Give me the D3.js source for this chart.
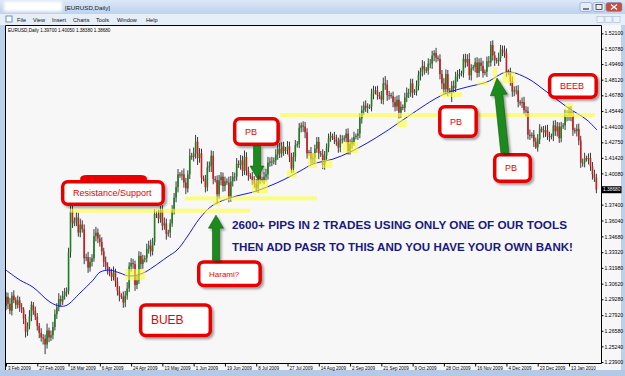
<!DOCTYPE html>
<html>
<head>
<meta charset="utf-8">
<script src="https://cdn.jsdelivr.net/npm/d3@7/dist/d3.min.js"></script>
<style>
  body { margin: 0; background: #bcd0ea; }
  svg { display: block; font-family: "Liberation Sans", Arial, sans-serif; }
</style>
</head>
<body>
<svg id="chart" width="625" height="376"></svg>
<script>
// EURUSD daily closes, 3 Feb 2009 .. 29 Jan 2010 (16 bars between date labels)
var closes = [
    1.2950, 1.2890, 1.2830, 1.2960, 1.2920, 1.2880, 1.2920, 1.2860, 1.2840, 1.2760, 1.2650, 1.2700, 1.2780, 1.2880, 1.2830, 1.2780,
    1.2700, 1.2640, 1.2600, 1.2590, 1.2540, 1.2660, 1.2600, 1.2620, 1.2690, 1.2800, 1.2860, 1.2930, 1.2910, 1.2960, 1.2990, 1.3000,
    1.3330, 1.3680, 1.3580, 1.3600, 1.3630, 1.3500, 1.3570, 1.3530, 1.3280, 1.3290, 1.3200, 1.3250, 1.3280, 1.3470, 1.3500, 1.3450,
    1.3420, 1.3340, 1.3250, 1.3210, 1.3180, 1.3150, 1.3120, 1.3160, 1.3080, 1.3000, 1.2960, 1.2950, 1.2900, 1.2960, 1.3020, 1.3210,
    1.3240, 1.3230, 1.3050, 1.3090, 1.3300, 1.3230, 1.3270, 1.3280, 1.3360, 1.3390, 1.3340, 1.3420, 1.3660, 1.3650, 1.3620, 1.3690,
    1.3560, 1.3580, 1.3490, 1.3500, 1.3580, 1.3690, 1.3800, 1.3890, 1.4000, 1.3990, 1.4000, 1.3930, 1.3880, 1.4000, 1.4160, 1.4150,
    1.4180, 1.4280, 1.4140, 1.4180, 1.3970, 1.3960, 1.3890, 1.4060, 1.4070, 1.4160, 1.3960, 1.3950, 1.3830, 1.3950, 1.3980, 1.3900,
    1.3940, 1.3930, 1.3800, 1.3940, 1.3980, 1.3980, 1.4090, 1.4080, 1.4120, 1.4030, 1.4150, 1.4030, 1.3990, 1.3980, 1.3950, 1.3920,
    1.3880, 1.3990, 1.3960, 1.3950, 1.3980, 1.4000, 1.4100, 1.4110, 1.4110, 1.4120, 1.4170, 1.4220, 1.4180, 1.4240, 1.4200, 1.4210,
    1.4240, 1.4150, 1.4050, 1.4150, 1.4250, 1.4260, 1.4400, 1.4420, 1.4410, 1.4360, 1.4180, 1.4190, 1.4130, 1.4140, 1.4220, 1.4280,
    1.4180, 1.4170, 1.4080, 1.4160, 1.4230, 1.4310, 1.4330, 1.4320, 1.4300, 1.4280, 1.4230, 1.4300, 1.4300, 1.4310, 1.4350, 1.4200,
    1.4260, 1.4280, 1.4320, 1.4330, 1.4350, 1.4480, 1.4550, 1.4590, 1.4570, 1.4580, 1.4580, 1.4690, 1.4720, 1.4720, 1.4680, 1.4670,
    1.4640, 1.4780, 1.4770, 1.4680, 1.4680, 1.4670, 1.4620, 1.4580, 1.4640, 1.4530, 1.4580, 1.4570, 1.4660, 1.4700, 1.4700, 1.4780,
    1.4700, 1.4710, 1.4760, 1.4850, 1.4880, 1.4930, 1.4900, 1.4890, 1.4950, 1.4950, 1.5020, 1.5040, 1.5000, 1.4990, 1.4860, 1.4780,
    1.4730, 1.4860, 1.4720, 1.4710, 1.4760, 1.4740, 1.4840, 1.4860, 1.4860, 1.4870, 1.4990, 1.4960, 1.4990, 1.4850, 1.4910, 1.4920,
    1.4960, 1.4870, 1.4960, 1.4930, 1.4870, 1.4880, 1.4970, 1.4960, 1.5110, 1.5020, 1.4980, 1.4970, 1.5000, 1.5070, 1.5060, 1.5040,
    1.4880, 1.4870, 1.4800, 1.4710, 1.4720, 1.4720, 1.4620, 1.4610, 1.4620, 1.4550, 1.4540, 1.4340, 1.4330, 1.4340, 1.4280, 1.4230,
    1.4300, 1.4390, 1.4380, 1.4360, 1.4380, 1.4330, 1.4320, 1.4330, 1.4420, 1.4370, 1.4410, 1.4310, 1.4410, 1.4420, 1.4510, 1.4500,
    1.4540, 1.4500, 1.4380, 1.4370, 1.4390, 1.4290, 1.4100, 1.4100, 1.4140, 1.4130, 1.4140, 1.4070, 1.4000, 1.3970, 1.3868
];
var firstOpen = 1.2870;

// shadow lengths in pips, above and below the candle body
var wickUp = [
    40,35,50,30,45,25,40,30,35,20,40,30,55,30,25,35,  30,25,40,30,35,60,25,40,45,40,35,50,30,40,35,30,
    40,58,60,30,45,40,50,35,40,30,45,40,35,60,50,35,  35,40,30,45,35,25,40,50,30,35,40,20,45,40,55,35,
    40,35,30,45,40,35,40,25,45,40,50,35,40,25,45,40,  45,50,40,25,35,45,40,50,45,20,35,50,40,35,60,25,
    50,58,40,45,40,20,35,50,40,45,40,25,40,45,40,35,  40,25,50,45,40,35,50,30,45,40,55,40,35,20,40,35,
    40,45,35,20,40,45,50,35,40,25,45,40,50,35,40,25,  45,40,35,40,45,25,40,25,35,40,35,20,45,40,35,40,
    40,20,45,40,35,40,35,20,45,40,35,40,35,25,40,45,  40,35,45,20,40,45,40,35,45,30,20,45,40,35,40,25,
    45,50,63,40,35,20,40,45,35,40,45,20,40,45,35,40,  40,20,45,40,35,50,40,20,45,40,40,25,45,20,40,35,
    45,40,35,20,40,45,40,35,45,20,40,45,40,50,35,20,  40,45,35,40,45,20,40,45,33,40,35,20,45,40,35,45,
    40,20,45,40,35,40,45,20,40,45,35,40,45,20,40,35,  45,40,20,35,40,45,35,20,40,45,40,35,40,20,45,40,
    40,45,40,20,40,45,40,35,45,20,40,45,35,40,35
];
var wickDn = [
    35,45,30,40,25,35,30,40,30,45,50,35,30,40,35,30,  40,45,35,50,83,35,40,30,35,30,40,35,45,30,35,40,
    30,45,40,25,45,35,40,30,50,25,45,35,40,30,45,40,  40,35,45,30,40,25,35,30,45,40,50,20,45,40,35,30,
    45,40,50,35,30,45,40,25,35,40,45,35,30,25,40,35,  40,35,50,25,45,30,35,40,45,20,40,45,50,35,40,25,
    40,45,60,40,50,20,45,35,40,50,45,20,85,40,45,50,  45,20,40,35,45,40,35,25,40,45,35,40,45,20,40,35,
    30,40,45,20,35,40,45,35,40,25,40,45,40,35,40,25,  40,45,40,35,40,20,35,40,45,50,45,20,40,35,40,35,
    50,20,35,40,35,40,30,25,40,35,45,40,35,20,35,30,  30,40,35,20,35,40,45,40,35,45,20,40,45,35,40,25,
    35,40,45,50,40,20,45,40,35,50,45,20,35,40,45,35,  45,20,35,40,45,40,45,20,35,40,45,50,40,20,45,50,
    40,45,50,20,90,40,35,45,40,20,40,45,35,40,45,20,  45,40,35,45,40,20,45,40,35,45,50,20,40,35,45,40,
    45,20,40,45,40,35,45,20,40,35,45,40,35,20,45,12,  35,40,20,45,40,35,40,20,45,40,45,40,35,20,40,45,
    40,45,50,20,45,40,45,35,40,20,45,40,45,35,30
];

var dateLabels = ["3 Feb 2009", "27 Feb 2009", "18 Mar 2009", "6 Apr 2009", "24 Apr 2009", "13 May 2009",
    "1 Jun 2009", "19 Jun 2009", "8 Jul 2009", "27 Jul 2009", "14 Aug 2009", "2 Sep 2009", "21 Sep 2009",
    "9 Oct 2009", "28 Oct 2009", "16 Nov 2009", "4 Dec 2009", "23 Dec 2009", "13 Jan 2010"];
var priceLabels = [1.52100, 1.50780, 1.49460, 1.48120, 1.46780, 1.45440, 1.44100, 1.42750, 1.41420, 1.40080,
    1.38740, 1.37400, 1.36040, 1.34680, 1.33320, 1.31980, 1.30620, 1.29280, 1.27920, 1.26580, 1.25240, 1.23900];

// moving average
var maIdx = [0, 7.2, 13.8, 22.5, 27.6, 31.2, 37.8, 44.5, 48.1, 53.2, 58.3, 63.4, 70.1, 75.2, 82.4, 87.5, 92.6,
    99.2, 105.9, 116.1, 126.3, 133.5, 141.7, 150.4, 157, 167.3, 176, 184.7, 193.9, 201.5, 218.4, 225.6, 235.8,
    246, 256.3, 266.5, 276.7, 287, 297.2, 302.3];
var maVal = [1.3178, 1.3092, 1.3032, 1.2904, 1.2869, 1.2878, 1.2981, 1.3092, 1.3161, 1.3178, 1.3153, 1.3127,
    1.3153, 1.3204, 1.3290, 1.3350, 1.3462, 1.3625, 1.3736, 1.3805, 1.3848, 1.3891, 1.3951, 1.4028, 1.4088,
    1.4131, 1.4191, 1.4268, 1.4363, 1.4449, 1.4637, 1.4698, 1.4749, 1.4792, 1.4878, 1.4826, 1.4706, 1.4577,
    1.4466, 1.4380];

// yellow zones: [bar from, bar to, price]
var zoneLines = [[32.7, 124.8, 1.3688], [91.6, 159.1, 1.3794], [140.2, 301.3, 1.4509]];
// yellow candle marks: [bar from, bar to, price top, price bottom]
var highlights = [
    [60.9, 71.1, 1.3187, 1.3092], [105.9, 109.5, 1.3779, 1.3728], [125.8, 134.0, 1.3951, 1.3839],
    [143.7, 148.8, 1.4037, 1.3977], [154.5, 159.1, 1.4183, 1.4054], [161.6, 166.8, 1.4123, 1.4054],
    [172.4, 180.1, 1.4277, 1.4183], [200.0, 205.1, 1.4466, 1.4406], [222.0, 233.2, 1.4706, 1.4663],
    [240.9, 246.6, 1.4792, 1.4766], [249.1, 251.2, 1.4921, 1.4783], [254.2, 260.4, 1.4878, 1.4783],
    [286.0, 290.0, 1.4612, 1.4492]
];
// callouts: [bar from, bar to, price top, price bottom, text]
var callouts = [
    [37.9, 72.1, 1.3994, 1.3925, ""],
    [28.1, 81.3, 1.3951, 1.3728, "Resistance/Support"],
    [116.1, 140.1, 1.4492, 1.4243, "PB"],
    [97.7, 130.9, 1.3264, 1.3032, "Harami?"],
    [68.0, 105.4, 1.2895, 1.2603, "BUEB"],
    [221.0, 241.4, 1.4595, 1.4311, "PB"],
    [249.1, 269.1, 1.4183, 1.3925, "PB"],
    [277.2, 302.8, 1.4869, 1.4646, "BEEB"]
];
// arrows: [bar tail, price tail, bar head, price head]
var arrows = [[128.4, 1.4243, 128.4, 1.3968], [107.4, 1.3264, 107.4, 1.3650], [255.2, 1.4183, 251.2, 1.4826]];
var messages = [[115.6, 1.3535, "2600+ PIPS IN 2 TRADES USING ONLY ONE OF OUR TOOLS"],
                [115.6, 1.3346, "THEN ADD PASR TO THIS AND YOU HAVE YOUR OWN BANK!"]];

var width = 625, height = 376;
var calloutFont = {"Resistance/Support": 9, "Harami?": 8, "BUEB": 12};
var arrowSize = [[7, 14, 12], [7, 15, 13], [8, 17, 17]];
var messageWidth = [335, 341];

var svg = d3.select("#chart");
var defs = svg.append("defs");

var x = d3.scaleLinear().domain([0, 288]).range([6, 569]);
var y = d3.scaleLinear().domain([1.239, 1.521]).range([362, 33.3]);

function make_defs() {
    var g = defs.append("linearGradient").attr("id", "tbar")
        .attr("x1", 0).attr("y1", 0).attr("x2", 0).attr("y2", 1);
    g.append("stop").attr("offset", 0).attr("stop-color", "#dce8f7");
    g.append("stop").attr("offset", 1).attr("stop-color", "#bcd2ee");

    var f = defs.append("filter").attr("id", "shadow")
        .attr("x", "-20%").attr("y", "-20%").attr("width", "150%").attr("height", "160%");
    f.append("feDropShadow").attr("dx", 2).attr("dy", 2).attr("stdDeviation", 1.2)
        .attr("flood-color", "#000").attr("flood-opacity", 0.35);

    defs.append("filter").attr("id", "blur")
        .append("feGaussianBlur").attr("stdDeviation", 1.5);

    defs.append("clipPath").attr("id", "plot")
        .append("rect").attr("x", 6).attr("y", 26).attr("width", 595).attr("height", 337);
}

function draw_window() {
    svg.append("rect").attr("width", width).attr("height", height).attr("fill", "#bcd0ea");
    svg.append("rect").attr("width", width).attr("height", 14).attr("fill", "url(#tbar)");

    // hidden caption
    svg.append("rect").attr("x", 4).attr("y", 1.5).attr("width", 58).attr("height", 10)
        .attr("fill", "#fff").attr("filter", "url(#blur)");
    svg.append("text").attr("x", 65).attr("y", 10).attr("font-size", 6.2).attr("fill", "#222")
        .text("[EURUSD,Daily]");

    var btns = [[580, 12, "#e3ecf8"], [593, 12, "#e3ecf8"], [606, 16, "#cb4a3e"]];
    btns.forEach(function(b) {
        svg.append("rect").attr("x", b[0]).attr("y", 2.5).attr("width", b[1]).attr("height", 9)
            .attr("rx", 2).attr("fill", b[2]).attr("stroke", "#7d97bd").attr("stroke-width", 0.6);
    });
    svg.append("line").attr("x1", 583).attr("x2", 589).attr("y1", 9).attr("y2", 9)
        .attr("stroke", "#333").attr("stroke-width", 1.2);
    svg.append("rect").attr("x", 596).attr("y", 4.5).attr("width", 6).attr("height", 5)
        .attr("fill", "none").attr("stroke", "#333").attr("stroke-width", 0.8);
    svg.append("path").attr("d", "M611,4.5L617,9.5M617,4.5L611,9.5")
        .attr("stroke", "#fff").attr("stroke-width", 1.4);

    // menu bar
    svg.append("rect").attr("y", 14).attr("width", width).attr("height", 11).attr("fill", "#e6eef8");
    svg.append("rect").attr("x", 6).attr("y", 16).attr("width", 6).attr("height", 6)
        .attr("fill", "#fff").attr("stroke", "#4a74b8").attr("stroke-width", 0.8);
    var menu = [["File", 17], ["View", 33], ["Insert", 52], ["Charts", 73], ["Tools", 96], ["Window", 117], ["Help", 146]];
    menu.forEach(function(m) {
        svg.append("text").attr("x", m[1]).attr("y", 22).attr("font-size", 5.6).attr("fill", "#111").text(m[0]);
    });
    [597, 605, 613].forEach(function(bx) {
        svg.append("rect").attr("x", bx).attr("y", 16.5).attr("width", 7).attr("height", 6)
            .attr("fill", "#eef3fa").attr("stroke", "#9aaecb").attr("stroke-width", 0.5);
    });

    // chart window
    svg.append("rect").attr("x", 5).attr("y", 25).attr("width", 616).attr("height", 345).attr("fill", "#f7f7f7");
    svg.append("rect").attr("x", 0).attr("y", 370).attr("width", width).attr("height", 6).attr("fill", "#b3c9e6");
}

function draw_axes() {
    var last = closes[closes.length - 1];
    var ticks = priceLabels.filter(function(v) { return Math.abs(y(v) - y(last)) > 5; });

    var ya = svg.append("g").attr("transform", "translate(601.5,0)")
        .call(d3.axisRight(y).tickValues(ticks).tickFormat(d3.format(".5f")).tickSize(2).tickPadding(1));
    ya.select(".domain").remove();
    ya.selectAll("text").attr("font-size", 5.2).attr("fill", "#000").attr("font-family", "Liberation Sans, Arial");
    ya.selectAll("line").attr("stroke", "#000");

    var xa = svg.append("g").attr("transform", "translate(0,363.5)")
        .call(d3.axisBottom(x).tickValues(dateLabels.map(function(d, i) { return i * 16; }))
            .tickFormat(function(d, i) { return dateLabels[i]; }).tickSize(3).tickPadding(0));
    xa.select(".domain").remove();
    xa.selectAll("text").attr("font-size", 4.5).attr("fill", "#000").attr("text-anchor", "start")
        .attr("dx", 1.5).attr("font-family", "Liberation Sans, Arial");
    xa.selectAll("line").attr("stroke", "#000");

    // frame
    svg.append("path").attr("d", "M5.5,370V25.5H601.5V363.5H5.5")
        .attr("fill", "none").attr("stroke", "#000").attr("stroke-width", 1);

    // current price box
    svg.append("rect").attr("x", 602).attr("y", y(last) - 3.5).attr("width", 19.5).attr("height", 7).attr("fill", "#000");
    svg.append("text").attr("x", 603).attr("y", y(last)).attr("dy", "0.35em").attr("font-size", 5)
        .attr("textLength", 17.5).attr("lengthAdjust", "spacingAndGlyphs")
        .attr("fill", "#fff").text(d3.format(".5f")(last));
}

function draw_candles() {
    var g = svg.append("g").attr("clip-path", "url(#plot)");

    closes.forEach(function(c, i) {
        var o = i > 0 ? closes[i - 1] : firstOpen;
        var hi = Math.max(o, c) + wickUp[i] / 10000,
            lo = Math.min(o, c) - wickDn[i] / 10000;
        var cx = x(i);

        g.append("line")
            .attr("x1", cx).attr("x2", cx)
            .attr("y1", y(hi)).attr("y2", y(lo))
            .style("stroke", "#222").style("stroke-width", 0.9);

        var top = y(Math.max(o, c)), bot = y(Math.min(o, c));
        g.append("rect")
            .attr("x", cx - 0.8).attr("width", 1.6)
            .attr("y", top).attr("height", Math.max(bot - top, 0.8))
            .attr("fill", c >= o ? "#1f7f1f" : "#cc1c1c");
    });

    var line = d3.line()
        .x(function(d) { return x(maIdx[d]); })
        .y(function(d) { return y(maVal[d]); })
        .curve(d3.curveCatmullRom);
    g.append("path")
        .attr("d", line(d3.range(maIdx.length)))
        .style("stroke", "#1414f0").style("stroke-width", 1).style("fill", "none");

    // legend
    var n = closes.length - 1, o = closes[n - 1];
    var leg = [o, Math.max(o, closes[n]) + wickUp[n] / 10000, Math.min(o, closes[n]) - wickDn[n] / 10000, closes[n]];
    svg.append("text").attr("x", 8).attr("y", 31.5).attr("font-size", 4.6).attr("fill", "#000")
        .text("EURUSD,Daily  " + leg.map(d3.format(".5f")).join(" "));
}

function draw_marks() {
    var g = svg.append("g").attr("clip-path", "url(#plot)");

    zoneLines.forEach(function(z) {
        g.append("rect")
            .attr("x", x(z[0])).attr("width", x(z[1]) - x(z[0]))
            .attr("y", y(z[2]) - 2).attr("height", 4)
            .attr("fill", "#ffff30").attr("opacity", 0.6);
    });

    highlights.forEach(function(h) {
        g.append("rect")
            .attr("x", x(h[0])).attr("width", x(h[1]) - x(h[0]))
            .attr("y", y(h[2])).attr("height", y(h[3]) - y(h[2]))
            .attr("fill", "#ffff30").attr("opacity", 0.6);
    });
}

function draw_callout(c) {
    var x0 = x(c[0]), x1 = x(c[1]), y0 = y(c[2]), y1 = y(c[3]);

    svg.append("rect")
        .attr("x", x0 + 1.75).attr("y", y0 + 1.75)
        .attr("width", x1 - x0 - 3.5).attr("height", y1 - y0 - 3.5)
        .attr("rx", 5)
        .attr("fill", c[4] ? "#fff" : "#e80000")
        .attr("stroke", "#e80000").attr("stroke-width", 3.5)
        .attr("filter", "url(#shadow)");

    if (c[4]) {
        svg.append("text")
            .attr("x", x0 + 12).attr("y", (y0 + y1) / 2).attr("dy", "0.36em")
            .attr("font-size", calloutFont[c[4]] || 9)
            .attr("fill", "#e80000")
            .text(c[4]);
    }
}

function draw_arrow(a, s) {
    var x0 = x(a[0]), y0 = y(a[1]), x1 = x(a[2]), y1 = y(a[3]);
    var dx = x1 - x0, dy = y1 - y0, len = Math.sqrt(dx * dx + dy * dy);
    var ux = dx / len, uy = dy / len, px = -uy, py = ux;
    var sw = s[0] / 2, hw = s[1] / 2, hl = s[2];
    var bx = x1 - ux * hl, by = y1 - uy * hl;

    var pts = [[x0 + px * sw, y0 + py * sw], [bx + px * sw, by + py * sw], [bx + px * hw, by + py * hw],
               [x1, y1], [bx - px * hw, by - py * hw], [bx - px * sw, by - py * sw], [x0 - px * sw, y0 - py * sw]];

    svg.append("polygon")
        .attr("points", pts.map(function(p) { return p.join(","); }).join(" "))
        .attr("fill", "#1d8a1d").attr("stroke", "#0e5a0e").attr("stroke-width", 0.6)
        .attr("filter", "url(#shadow)");
}

function draw_messages() {
    messages.forEach(function(m, i) {
        svg.append("text")
            .attr("x", x(m[0])).attr("y", y(m[1]))
            .attr("font-size", 11).attr("font-weight", "bold")
            .attr("textLength", messageWidth[i]).attr("lengthAdjust", "spacingAndGlyphs")
            .attr("fill", "#1a1a7e")
            .text(m[2]);
    });
}

make_defs();
draw_window();
draw_candles();
draw_marks();
draw_axes();
callouts.forEach(draw_callout);
arrows.forEach(function(a, i) { draw_arrow(a, arrowSize[i]); });
draw_messages();
</script>
</body>
</html>
